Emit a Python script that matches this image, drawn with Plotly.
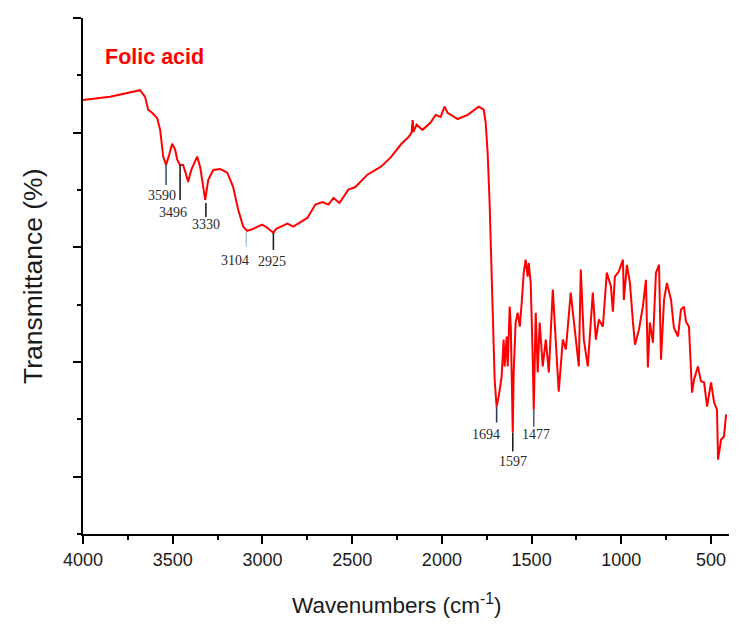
import plotly.graph_objects as go

# FTIR spectrum of folic acid
wavenumber = [4000, 3849, 3682, 3654, 3637, 3615, 3587, 3570, 3553, 3537,
              3520, 3503, 3486, 3475, 3459, 3442, 3425, 3414, 3397, 3364,
              3347, 3330, 3319, 3302, 3274, 3235, 3196, 3163, 3135, 3107,
              3085, 3051, 3001, 2973, 2939, 2923, 2900, 2861, 2828, 2789,
              2750, 2705, 2666, 2632, 2604, 2571, 2521, 2482, 2415, 2342,
              2286, 2230, 2186, 2169, 2163, 2158, 2141, 2108, 2063, 2035,
              2007, 1985, 1968, 1912, 1856, 1795, 1767, 1756, 1745, 1734,
              1723, 1717, 1706, 1695, 1683, 1667, 1656, 1650, 1639, 1633,
              1622, 1616, 1605, 1600, 1589, 1577, 1566, 1555, 1544, 1533,
              1522, 1516, 1505, 1494, 1488, 1477, 1466, 1455, 1438, 1421,
              1404, 1382, 1365, 1349, 1326, 1309, 1282, 1265, 1237, 1226,
              1209, 1187, 1159, 1142, 1125, 1103, 1081, 1058, 1047, 1036,
              1014, 991, 986, 969, 952, 935, 924, 902, 880, 863,
              852, 841, 824, 807, 790, 779, 762, 746, 723, 707,
              684, 668, 651, 640, 623, 606, 595, 573, 556, 539,
              522, 500, 483, 467, 461, 444, 428, 416]
transmittance = [84.1, 84.7, 86.0, 84.7, 82.2, 81.6, 80.6, 78.3, 73.1, 71.5,
                 73.4, 75.6, 74.4, 72.5, 71.5, 71.5, 69.6, 68.2, 70.5, 73.1,
                 71.1, 67.6, 64.7, 68.6, 70.5, 70.7, 70.0, 67.2, 62.8, 59.5,
                 58.7, 59.1, 59.9, 59.3, 58.3, 59.1, 59.5, 60.1, 59.5, 60.3,
                 61.2, 63.8, 64.3, 63.8, 65.1, 64.1, 66.7, 67.2, 69.6, 71.1,
                 72.9, 75.4, 76.9, 77.7, 80.2, 77.9, 79.3, 78.3, 79.7, 81.2,
                 80.8, 82.8, 81.6, 80.4, 81.2, 82.8, 82.2, 79.7, 73.8, 64.1,
                 51.2, 44.8, 29.8, 24.6, 26.6, 30.4, 37.6, 32.4, 38.2, 32.4,
                 44.0, 40.1, 19.6, 31.2, 40.9, 42.8, 40.1, 44.8, 50.6, 53.1,
                 49.8, 52.5, 48.6, 34.3, 24.0, 42.8, 31.2, 40.9, 32.4, 37.6,
                 31.2, 47.3, 37.6, 27.5, 37.6, 35.7, 46.7, 41.5, 32.4, 51.2,
                 37.6, 32.4, 46.7, 37.6, 41.5, 40.1, 50.6, 47.9, 43.0, 49.8,
                 50.8, 53.1, 45.3, 52.1, 48.6, 40.9, 36.6, 39.5, 44.0, 49.2,
                 32.2, 40.9, 37.0, 50.6, 52.1, 33.7, 45.3, 48.6, 45.3, 39.9,
                 38.2, 43.4, 44.0, 41.1, 40.1, 27.3, 29.8, 32.4, 29.5, 29.3,
                 24.6, 29.3, 25.4, 24.0, 14.3, 18.2, 18.8, 23.1]

# Peak annotations
peak_labels = ["3590", "3496", "3330", "3104", "2925", "1694", "1597", "1477"]
peak_pos = [3537, 3459, 3315, 3090, 2939, 1695, 1605, 1488]
peak_line_top = [71.5, 71.5, 64.1, 58.5, 58.3, 24.6, 19.6, 24.0]
peak_line_bottom = [67.6, 64.7, 61.4, 55.6, 55.0, 21.5, 15.9, 20.7]
peak_label_y = [65.5, 62.2, 59.9, 52.9, 52.7, 19.2, 14.0, 19.2]
peak_label_shift = [-4, -7, 0, -11, -1, -11, 0, 2]
peak_colors = ["#3E5878", "#1C1C2C", "#1E1E1E", "#9FCBEA", "#1E1E1E",
               "#2E3B55", "#1E1E1E", "#4E5E7E"]

fig = go.Figure()
fig.add_trace(go.Scatter(x=wavenumber, y=transmittance, mode="lines",
                         line=dict(color="#FF0000", width=2),
                         showlegend=False, hoverinfo="skip"))

for lab, xp, yt, yb, yl, sh, col in zip(peak_labels, peak_pos, peak_line_top,
                                         peak_line_bottom, peak_label_y,
                                         peak_label_shift, peak_colors):
    fig.add_shape(type="line", xref="x", yref="y", x0=xp, x1=xp, y0=yt, y1=yb,
                  line=dict(color=col, width=1.6))
    fig.add_annotation(x=xp, y=yl, xref="x", yref="y", text=lab,
                       showarrow=False, xshift=sh,
                       font=dict(family="Liberation Serif, Times New Roman, serif",
                                 size=14, color="#2A2A2A"))

fig.add_annotation(x=0.031, y=0.924, xref="paper", yref="paper",
                   text="<b>Folic acid</b>", showarrow=False,
                   xanchor="left", yanchor="middle",
                   font=dict(family="Liberation Sans, Arial, sans-serif",
                             size=21.5, color="#FF0000"))

fig.add_annotation(x=0.486, y=-0.1357, xref="paper", yref="paper",
                   text="Wavenumbers (cm<sup>-1</sup>)", showarrow=False,
                   xanchor="center", yanchor="middle",
                   font=dict(family="Liberation Sans, Arial, sans-serif",
                             size=22.5, color="#1A1A1A"))
fig.add_annotation(x=-0.0774, y=0.5, xref="paper", yref="paper",
                   text="Transmittance (%)", showarrow=False, textangle=-90,
                   xanchor="center", yanchor="middle",
                   font=dict(family="Liberation Sans, Arial, sans-serif",
                             size=26.5, color="#1A1A1A"))

fig.update_layout(
    width=737, height=623,
    margin=dict(l=75, r=16, t=10, b=97),
    paper_bgcolor="white", plot_bgcolor="white",
    xaxis=dict(range=[4000, 400], tickmode="linear", tick0=500, dtick=500,
               ticks="outside", ticklen=8, tickwidth=2, tickcolor="black",
               showline=True, linecolor="black", linewidth=2, mirror=False,
               showgrid=False, zeroline=False,
               minor=dict(dtick=250, tick0=500, ticks="outside", ticklen=4,
                          tickwidth=2, tickcolor="black", showgrid=False),
               tickfont=dict(family="Liberation Sans, Arial, sans-serif",
                             size=18, color="#1A1A1A")),
    yaxis=dict(range=[-0.125, 100], tickmode="linear", tick0=100, dtick=22.25,
               ticks="outside", ticklen=8, tickwidth=2, tickcolor="black",
               showticklabels=False,
               showline=True, linecolor="black", linewidth=2, mirror=False,
               showgrid=False, zeroline=False,
               minor=dict(dtick=11.125, tick0=100, ticks="outside", ticklen=4,
                          tickwidth=2, tickcolor="black", showgrid=False)),
)

fig.write_html("out.html")
